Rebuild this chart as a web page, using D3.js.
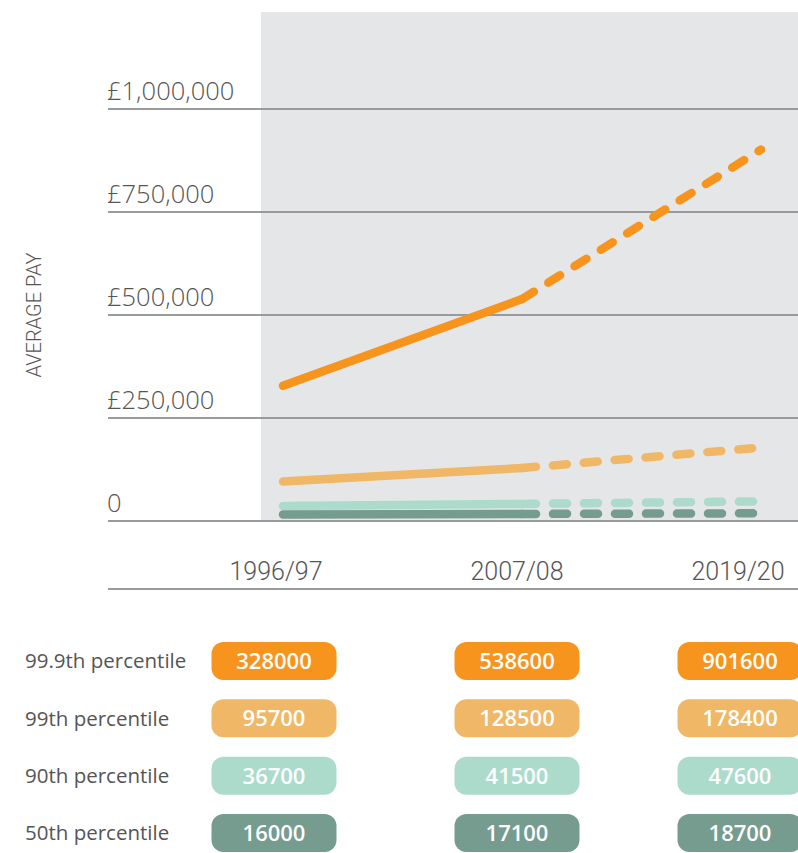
<!DOCTYPE html>
<html lang="en">
<head>
    <meta charset="UTF-8">
    <title>Average pay by percentile</title>
    <style>
        body { margin: 0; background: #fff; }
        svg { display: block; }
        .grid { stroke: #999a9c; stroke-width: 2px; }
        .tick-label { font-family: "Open Sans", sans-serif; font-weight: 300; font-size: 25.5px; fill: #555; }
        .year-label { font-family: Roboto, sans-serif; font-weight: 300; font-size: 25px; fill: #555; }
        .axis-title { font-family: Roboto, sans-serif; font-weight: 300; font-size: 20px; fill: #555; }
        .row-label { font-family: "Open Sans", sans-serif; font-size: 20.5px; fill: #555; }
        .pill-text { font-family: "Open Sans", sans-serif; font-weight: 600; font-size: 22px; fill: #fff; }
    </style>
    <script src="https://d3js.org/d3.v7.min.js"></script>
</head>
<body>
    <svg width="798" height="853"></svg>
    <script>
        // data
        const years = ["1996/97", "2007/08", "2019/20"];
        const percentiles = ["99.9th percentile", "99th percentile", "90th percentile", "50th percentile"];
        const p999 = [328000, 538600, 901600];
        const p99 = [95700, 128500, 178400];
        const p90 = [36700, 41500, 47600];
        const p50 = [16000, 17100, 18700];
        const yTicks = [0, 250000, 500000, 750000, 1000000];
        const colors = ["#f7941d", "#efb766", "#acdbcc", "#769b8f"];

        const series = [p999, p99, p90, p50];

        const width = 798;
        const height = 853;
        const svg = d3.select("svg");

        const y = d3.scaleLinear().domain([0, 1000000]).range([521, 109]);
        const x = d3.scalePoint().domain(years).range([283, 761]);
        // labels and pills sit on their own columns
        const xLabel = d3.scaleOrdinal().domain(years).range([276, 517, 738]);
        const xPill = d3.scaleOrdinal().domain(years).range([274, 517, 740]);

        // shaded plot area
        svg.append("rect")
            .attr("x", 261).attr("y", 12)
            .attr("width", width - 261).attr("height", y(0) - 12)
            .attr("fill", "#e5e6e8");

        // gridlines + tick labels
        const ticks = svg.append("g");
        ticks.selectAll("line")
            .data(yTicks)
            .enter().append("line")
            .attr("class", "grid")
            .attr("x1", 108).attr("x2", width)
            .attr("y1", d => y(d)).attr("y2", d => y(d));
        ticks.selectAll("text")
            .data(yTicks)
            .enter().append("text")
            .attr("class", "tick-label")
            .attr("x", 107)
            .attr("y", d => y(d) - 9)
            .text(d => d === 0 ? "0" : "£" + d3.format(",")(d));

        svg.append("text")
            .attr("class", "axis-title")
            .attr("transform", "translate(41,315) rotate(-90)")
            .attr("text-anchor", "middle")
            .text("AVERAGE PAY");

        // lines: solid to 2007/08, dashed after
        const line = d3.line()
            .x(d => x(d.year))
            .y(d => y(d.value));

        const lines = svg.append("g");
        series.forEach((s, i) => {
            const pts = years.map((yr, j) => ({ year: yr, value: s[j] }));
            lines.append("path")
                .attr("d", line(pts.slice(1)))
                .attr("fill", "none")
                .attr("stroke", colors[i])
                .attr("stroke-width", 8.5)
                .attr("stroke-linecap", "round")
                .attr("stroke-dasharray", "14,17");
            lines.append("path")
                .attr("d", line(pts.slice(0, 2)))
                .attr("fill", "none")
                .attr("stroke", colors[i])
                .attr("stroke-width", 8.5)
                .attr("stroke-linecap", "round");
        });

        // x labels + bottom rule
        svg.append("g").selectAll("text")
            .data(years)
            .enter().append("text")
            .attr("class", "year-label")
            .attr("x", d => xLabel(d))
            .attr("y", 580)
            .attr("text-anchor", "middle")
            .text(d => d);
        svg.append("line")
            .attr("class", "grid")
            .attr("x1", 108).attr("x2", width)
            .attr("y1", 589).attr("y2", 589);

        // value table
        const rowY = d3.scalePoint().domain(percentiles).range([661, 833]);
        const rows = svg.append("g").selectAll("g")
            .data(percentiles)
            .enter().append("g")
            .attr("transform", d => `translate(0,${rowY(d)})`);

        rows.append("text")
            .attr("class", "row-label")
            .attr("x", 25)
            .attr("dy", "0.35em")
            .text(d => d);

        rows.each(function (p, i) {
            const cells = d3.select(this).selectAll("g")
                .data(years.map((yr, j) => ({ year: yr, value: series[i][j] })))
                .enter().append("g")
                .attr("transform", d => `translate(${xPill(d.year)},0)`);
            cells.append("rect")
                .attr("x", -62.5).attr("y", -19)
                .attr("width", 125).attr("height", 38)
                .attr("rx", 12)
                .attr("fill", colors[i]);
            cells.append("text")
                .attr("class", "pill-text")
                .attr("text-anchor", "middle")
                .attr("dy", "0.36em")
                .text(d => d.value);
        });
    </script>
</body>
</html>
